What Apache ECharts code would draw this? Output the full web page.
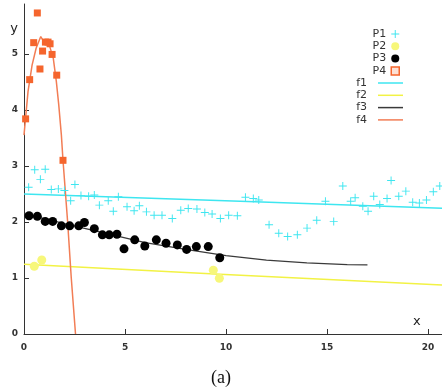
<!DOCTYPE html>
<html>
<head>
<meta charset="utf-8">
<script src="https://cdn.jsdelivr.net/npm/echarts@6/dist/echarts.min.js"></script>
<style>html,body{margin:0;padding:0;background:#fff}#c{width:442px;height:392px}</style>
</head>
<body>
<div id="c"></div>
<script>
// P1 (cyan crosses)
const p1X = [0.23,0.53,0.81,1.05,1.35,1.70,2.0,2.31,2.52,2.82,3.20,3.48,3.73,4.17,4.42,4.67,5.10,5.45,5.71,6.06,6.44,6.83,7.34,7.76,8.13,8.56,8.95,9.31,9.72,10.13,10.56,10.96,11.35,11.62,12.13,12.61,13.05,13.53,14.01,14.49,14.92,15.33,15.78,16.17,16.39,16.77,17.03,17.31,17.61,17.97,18.17,18.55,18.90,19.24,19.57,19.92,20.26,20.58];
const p1Y = [2.62,2.93,2.76,2.94,2.58,2.59,2.56,2.38,2.67,2.47,2.46,2.48,2.30,2.38,2.19,2.45,2.27,2.20,2.29,2.18,2.12,2.12,2.06,2.21,2.24,2.23,2.17,2.14,2.06,2.12,2.11,2.44,2.42,2.39,1.95,1.80,1.74,1.77,1.89,2.03,2.37,2.01,2.64,2.37,2.43,2.28,2.19,2.46,2.31,2.42,2.74,2.46,2.55,2.35,2.34,2.39,2.54,2.64];
// P2 (yellow dots)
const p2X = [0.51,0.88,9.37,9.67];
const p2Y = [1.21,1.32,1.14,0.995];
// P3 (black dots)
const p3X = [0.25,0.66,1.05,1.42,1.85,2.26,2.71,2.99,3.48,3.88,4.22,4.60,4.95,5.48,5.98,6.55,7.03,7.59,8.05,8.53,9.12,9.69];
const p3Y = [2.11,2.10,2.01,2.01,1.93,1.93,1.93,1.99,1.88,1.77,1.77,1.78,1.52,1.68,1.57,1.68,1.62,1.59,1.51,1.56,1.56,1.36];
// P4 (orange squares)
const p4X = [0.08,0.28,0.48,0.66,0.79,0.92,1.06,1.19,1.29,1.39,1.62,1.93];
const p4Y = [3.84,4.54,5.20,5.73,4.73,5.05,5.21,5.21,5.18,4.99,4.62,3.10];
// f1 (cyan line)
const f1X = [0, 10.7, 20.7];
const f1Y = [2.50, 2.37, 2.245];
// f2 (yellow line)
const f2X = [0, 9.7, 20.7];
const f2Y = [1.245, 1.066, 0.875];
// f3 (dark line)
const f3X = [0, 2, 4, 6, 8, 10, 12, 14, 16, 17];
const f3Y = [2.15, 1.97, 1.80, 1.63, 1.51, 1.40, 1.32, 1.27, 1.24, 1.232];
// f4 (orange line)
const f4X = [0,0.2,0.4,0.6,0.83,1.0,1.25,1.45,1.6,1.72,1.85,1.93,2.16,2.34,2.55];
const f4Y = [3.55,4.33,4.80,5.10,5.31,5.20,5.16,4.92,4.51,4.09,3.55,3.10,2.0,1.0,0];
// ticks
const xTicks = [0,5,10,15,20];
const yTicks = [0,1,2,3,4,5];

const zip = (a,b) => a.map((v,i)=>[v,b[i]]);
const PLUS = 'path://M4.4,0H5.6V4.4H10V5.6H5.6V10H4.4V5.6H0V4.4H4.4Z';
const LINE_ICON = 'path://M0,0H25V1.5H0Z';
const FONT = 'DejaVu Sans';
const C_CYAN = '#3ee6f0', C_YEL = '#f7f77a', C_YEL_L = '#f2f244', C_ORG = '#f5652d', C_ORG_L = '#f27d55', C_DARK = '#3a3a3a';

const chart = echarts.init(document.getElementById('c'), null, {renderer:'canvas'});
chart.setOption({
  animation:false,
  backgroundColor:'#fff',
  textStyle:{fontFamily:FONT},
  grid:{left:24, right:0, top:4, bottom:58},
  title:{text:'(a)', left:'center', top:364, textStyle:{fontFamily:'Liberation Serif', fontSize:18, fontWeight:'normal', color:'#111'}},
  legend:[
    {orient:'vertical', right:37, top:23, align:'right', itemGap:0.3, itemWidth:8, itemHeight:8,
     textStyle:{fontSize:11, color:'#333', lineHeight:12, fontFamily:FONT},
     data:[
       {name:'P1', icon:PLUS, itemStyle:{color:C_CYAN}},
       {name:'P2', icon:'circle', itemStyle:{color:C_YEL}},
       {name:'P3', icon:'circle', itemStyle:{color:'#000'}},
       {name:'P4', icon:'rect', itemStyle:{color:'#fde0d4', borderColor:C_ORG, borderWidth:1.5}}
     ]},
    {orient:'vertical', right:34, top:72, align:'right', itemGap:0.3, itemWidth:25, itemHeight:1.5,
     textStyle:{fontSize:11, color:'#333', lineHeight:12, fontFamily:FONT, padding:[0,6,0,0]},
     data:[
       {name:'f1', icon:LINE_ICON, itemStyle:{color:C_CYAN}},
       {name:'f2', icon:LINE_ICON, itemStyle:{color:C_YEL_L}},
       {name:'f3', icon:LINE_ICON, itemStyle:{color:C_DARK}},
       {name:'f4', icon:LINE_ICON, itemStyle:{color:C_ORG_L}}
     ]}
  ],
  xAxis:{type:'value', min:0, max:20.69, interval:5,
    name:'x', nameLocation:'end', nameGap:-29,
    nameTextStyle:{fontSize:13, color:'#222', fontFamily:FONT, verticalAlign:'bottom', padding:[0,0,6,0]},
    axisLine:{lineStyle:{color:'#333', width:1}},
    axisTick:{inside:true, length:5, customValues:xTicks, lineStyle:{color:'#333'}},
    axisLabel:{customValues:xTicks, margin:9, fontSize:9, fontWeight:'bold', color:'#333', fontFamily:FONT},
    splitLine:{show:false}},
  yAxis:{type:'value', min:0, max:5.89, interval:1,
    name:'y', nameLocation:'end', nameGap:-31,
    nameTextStyle:{fontSize:13, color:'#222', fontFamily:FONT, padding:[0,20,0,0]},
    axisLine:{show:true, lineStyle:{color:'#333', width:1}},
    axisTick:{show:true, inside:true, length:5, customValues:yTicks, lineStyle:{color:'#333'}},
    axisLabel:{customValues:yTicks, margin:6, fontSize:9, fontWeight:'bold', color:'#333', fontFamily:FONT},
    splitLine:{show:false}},
  series:[
    {name:'f1', type:'line', data:zip(f1X,f1Y), symbol:'none', z:2, lineStyle:{color:C_CYAN, width:1.5}, itemStyle:{color:C_CYAN}},
    {name:'f2', type:'line', data:zip(f2X,f2Y), symbol:'none', z:2, lineStyle:{color:C_YEL_L, width:1.5}, itemStyle:{color:C_YEL_L}},
    {name:'f3', type:'line', data:zip(f3X,f3Y), symbol:'none', z:2, lineStyle:{color:C_DARK, width:1.2}, itemStyle:{color:C_DARK}},
    {name:'f4', type:'line', data:zip(f4X,f4Y), symbol:'none', z:2, lineStyle:{color:C_ORG_L, width:1.5}, itemStyle:{color:C_ORG_L}},
    {name:'P1', type:'scatter', data:zip(p1X,p1Y), symbol:PLUS, symbolSize:8, z:3, itemStyle:{color:C_CYAN, opacity:1}},
    {name:'P2', type:'scatter', data:zip(p2X,p2Y), symbol:'circle', symbolSize:9, z:3, itemStyle:{color:C_YEL, opacity:1}},
    {name:'P3', type:'scatter', data:zip(p3X,p3Y), symbol:'circle', symbolSize:9, z:4, itemStyle:{color:'#000', opacity:1}},
    {name:'P4', type:'scatter', data:zip(p4X,p4Y), symbol:'rect', symbolSize:7, z:4, itemStyle:{color:C_ORG, opacity:1}}
  ]
});
</script>
</body>
</html>
